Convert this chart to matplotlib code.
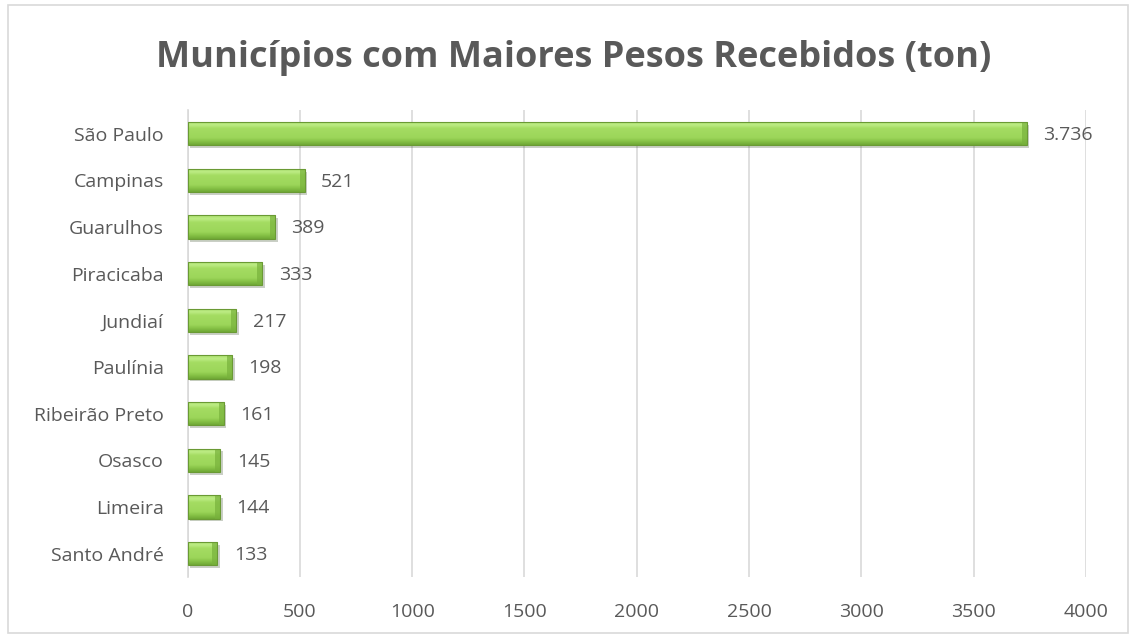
import numpy as np
import matplotlib.pyplot as plt
import matplotlib.patheffects as pe
from matplotlib.patches import Rectangle
from matplotlib.colors import LinearSegmentedColormap

plt.rcParams['font.family'] = ['Open Sans', 'DejaVu Sans']

municipios = ['São Paulo', 'Campinas', 'Guarulhos', 'Piracicaba', 'Jundiaí',
              'Paulínia', 'Ribeirão Preto', 'Osasco', 'Limeira', 'Santo André']
pesos = [3736, 521, 389, 333, 217, 198, 161, 145, 144, 133]
xticks = [0, 500, 1000, 1500, 2000, 2500, 3000, 3500, 4000]

txt = '#595959'
grid = '#d9d9d9'

fig = plt.figure(figsize=(11.31, 6.36), dpi=100)
ax = fig.add_axes([0.1658, 0.0928, 0.7944, 0.7335])

# chart border
fig.patches.append(Rectangle((8 / 1131, 3 / 636), 1120 / 1131, 628 / 636,
                             transform=fig.transFigure, fill=False,
                             edgecolor=grid, lw=1.2))

ypos = np.arange(len(municipios))
bars = ax.barh(ypos, pesos, height=0.5, color='#9ed85c', lw=0, zorder=3,
               path_effects=[pe.SimplePatchShadow(offset=(2, -2), alpha=0.25),
                             pe.Normal()])

# bevel-like vertical gradient inside each bar
green = LinearSegmentedColormap.from_list(
    'bevel', [(0.0, '#6fa836'), (0.15, '#86c246'), (0.3, '#9cd65a'),
              (0.7, '#a4dc62'), (0.85, '#bdec84'), (1.0, '#a9de6c')])
grad = np.linspace(0, 1, 64).reshape(-1, 1)
cap = 5 / 0.2247  # right-end bevel, ~5 px
for b in bars:
    x0, y0 = b.get_x(), b.get_y()
    w, h = b.get_width(), b.get_height()
    im = ax.imshow(grad, cmap=green, aspect='auto', origin='lower',
                   extent=(x0, x0 + w, y0 + h, y0), zorder=4)
    im.set_clip_path(b)
    ax.add_patch(Rectangle((x0 + w - cap, y0), cap, h, facecolor='#78b23c',
                           lw=0, alpha=0.7, zorder=5))
    ax.add_patch(Rectangle((x0, y0), w, h, fill=False, edgecolor='#6a9a34',
                           lw=0.8, zorder=6))

for y, v in zip(ypos, pesos):
    label = f'{v:,}'.replace(',', '.')
    ax.annotate(label, (v, y), xytext=(12, -1), textcoords='offset points',
                va='center', ha='left', fontsize=14, color=txt)

ax.set_ylim(len(municipios) - 0.5, -0.5)
ax.set_xlim(0, 4000)
ax.set_yticks(ypos)
ax.set_yticklabels(municipios, fontsize=14, color=txt)
ax.set_xticks(xticks)
ax.set_xticklabels([str(t) for t in xticks], fontsize=14, color=txt)
ax.tick_params(length=0)
ax.tick_params(axis='y', pad=17)
ax.tick_params(axis='x', pad=19)
ax.grid(axis='x', color=grid, lw=1.2, zorder=0)
ax.set_axisbelow(True)
for s in ['top', 'right', 'bottom']:
    ax.spines[s].set_visible(False)
ax.spines['left'].set_color(grid)
ax.spines['left'].set_linewidth(1.2)

fig.text(0.507, 0.8947, 'Municípios com Maiores Pesos Recebidos (ton)',
         ha='center', va='baseline', fontsize=26, fontweight='bold', color=txt)

fig.savefig('out.png', dpi=100)
